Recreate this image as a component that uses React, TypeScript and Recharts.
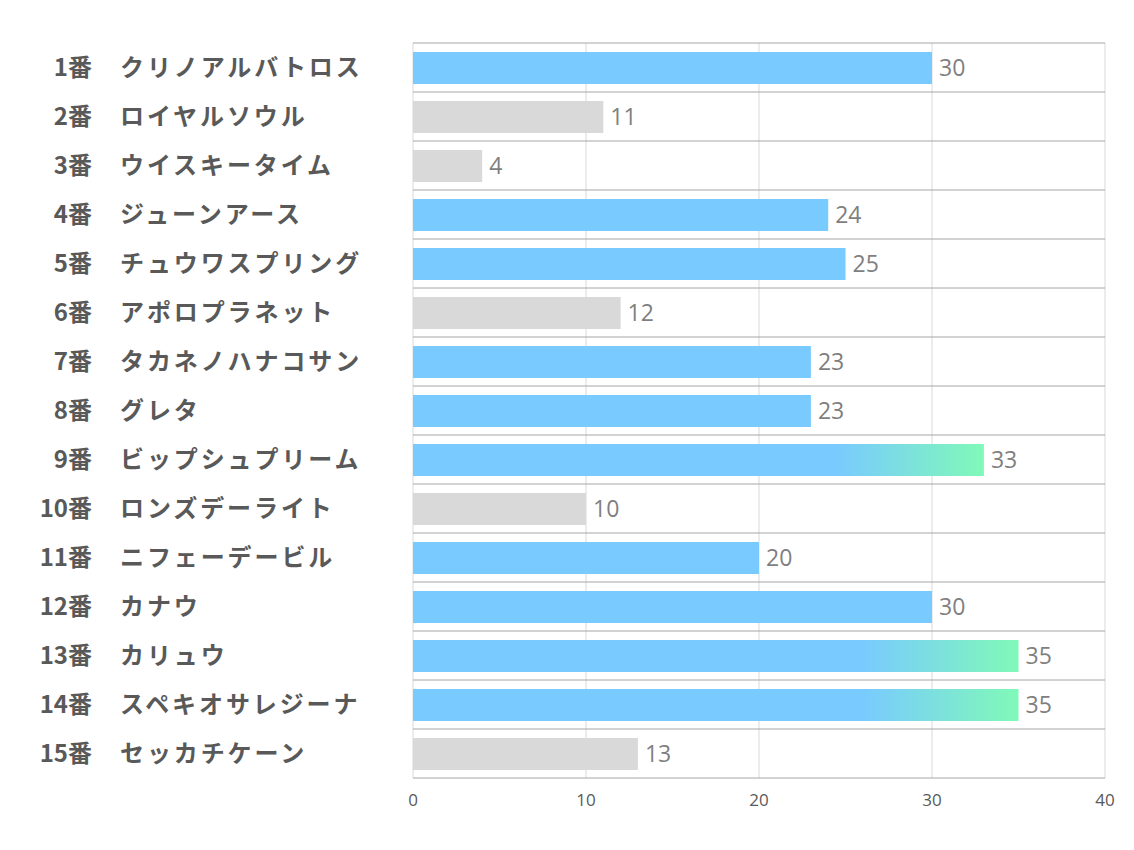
import React from 'react';
import { BarChart, Bar, XAxis, YAxis, CartesianGrid, Cell, LabelList } from 'recharts';

const horseNumbers = ['1番', '2番', '3番', '4番', '5番', '6番', '7番', '8番', '9番', '10番', '11番', '12番', '13番', '14番', '15番'];
const horseNames = ['クリノアルバトロス', 'ロイヤルソウル', 'ウイスキータイム', 'ジューンアース', 'チュウワスプリング', 'アポロプラネット', 'タカネノハナコサン', 'グレタ', 'ビップシュプリーム', 'ロンズデーライト', 'ニフェーデービル', 'カナウ', 'カリュウ', 'スペキオサレジーナ', 'セッカチケーン'];
const scores = [30, 11, 4, 24, 25, 12, 23, 23, 33, 10, 20, 30, 35, 35, 13];
const tiers = ['blue', 'gray', 'gray', 'blue', 'blue', 'gray', 'blue', 'blue', 'grad', 'gray', 'blue', 'blue', 'grad', 'grad', 'gray'];
const xTicks = [0, 10, 20, 30, 40];

const data = horseNames.map((name, i) => ({ key: horseNumbers[i], num: horseNumbers[i], name, value: scores[i], tier: tiers[i] }));

const fillFor = (tier: string) => (tier === 'gray' ? '#d9d9d9' : tier === 'grad' ? 'url(#gradBar)' : '#79caff');

const JP = '"Noto Sans CJK JP", "Noto Sans", sans-serif';
const NUMF = '"Open Sans", "Noto Sans", sans-serif';

const YTick = (props: any) => {
  const { y, payload } = props;
  const idx = horseNumbers.indexOf(payload.value);
  return (
    <g>
      <text x={92} y={y} dy={-2} textAnchor="end" dominantBaseline="central" fill="#595959" fontFamily={JP} fontWeight={700} fontSize={24}>
        {payload.value}
      </text>
      <text x={120} y={y} dy={-2} textAnchor="start" dominantBaseline="central" fill="#595959" fontFamily={JP} fontWeight={700} fontSize={24} letterSpacing={2.9}>
        {horseNames[idx]}
      </text>
    </g>
  );
};

export default function App() {
  const n = data.length;
  return (
    <div style={{ position: 'absolute', left: 0, top: 0, width: 1134, height: 850, background: '#fff' }}>
      <BarChart
        width={1134}
        height={850}
        data={data}
        layout="vertical"
        margin={{ top: 43, right: 29, bottom: 42, left: 0 }}
        barSize={32}
      >
        <defs>
          <linearGradient id="gradBar" x1="0" y1="0" x2="1" y2="0">
            <stop offset="0" stopColor="#79caff" />
            <stop offset="0.74" stopColor="#79caff" />
            <stop offset="1" stopColor="#80f9b8" />
          </linearGradient>
        </defs>
        <CartesianGrid horizontal={false} vertical={true} stroke="#d9d9d9" strokeWidth={1} />
        <CartesianGrid
          vertical={false}
          horizontal={true}
          stroke="#a6a6a6"
          strokeWidth={1}
          horizontalCoordinatesGenerator={({ offset }: any) =>
            Array.from({ length: n + 1 }, (_, i) => offset.top + (i * offset.height) / n)
          }
        />
        <XAxis
          type="number"
          domain={[0, 40]}
          ticks={xTicks}
          axisLine={false}
          tickLine={false}
          tickMargin={10}
          height={30}
          tick={{ fill: '#595959', fontSize: 17, fontFamily: NUMF }}
        />
        <YAxis type="category" dataKey="key" width={413} axisLine={false} tickLine={false} tick={<YTick />} interval={0} />
        <Bar dataKey="value" isAnimationActive={false}>
          {data.map((d, i) => (
            <Cell key={i} fill={fillFor(d.tier)} />
          ))}
          <LabelList dataKey="value" position="right" offset={7} fill="#7f7f7f" fontSize={23} fontFamily={NUMF} />
        </Bar>
      </BarChart>
    </div>
  );
}
